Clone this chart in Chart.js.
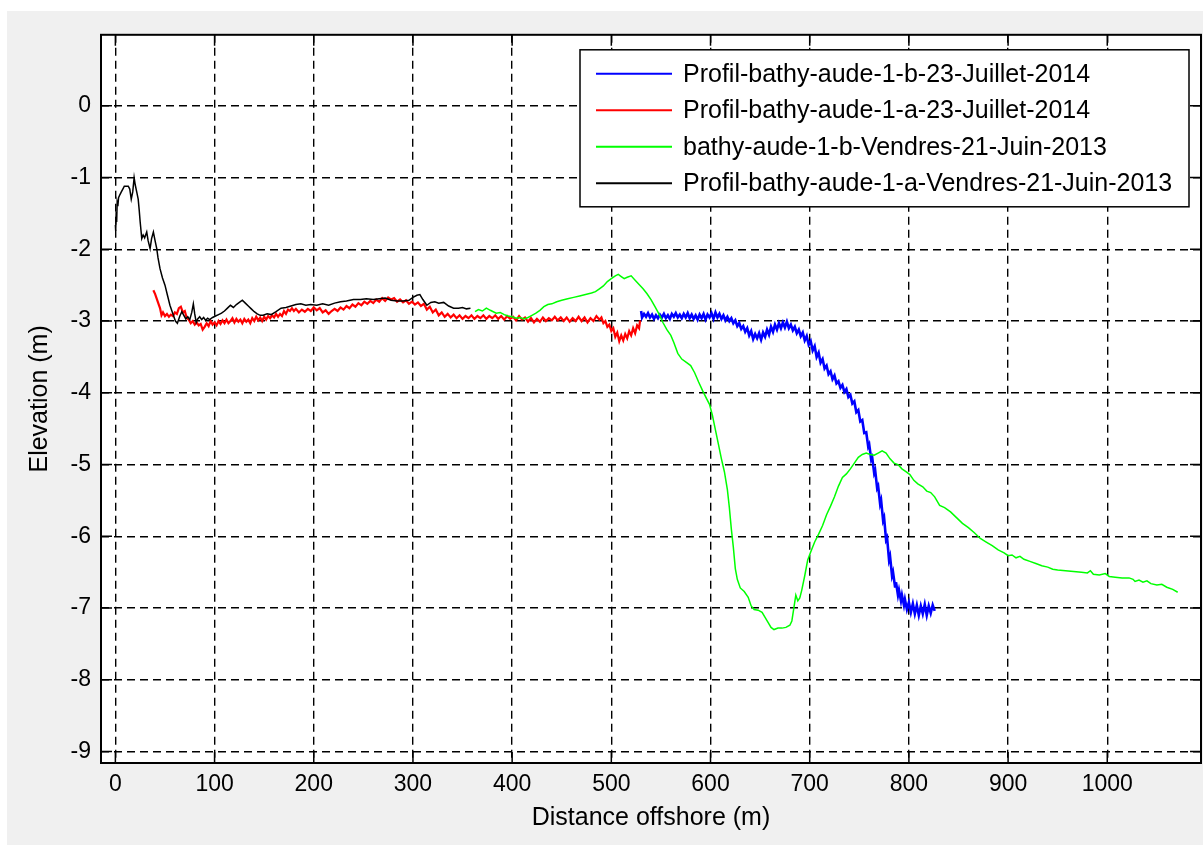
<!DOCTYPE html>
<html>
<head>
<meta charset="utf-8">
<title>Profils bathymetriques Aude</title>
<script src="https://cdn.jsdelivr.net/npm/chart.js@4.4.1/dist/chart.umd.min.js"></script>
<style>
  html, body { margin: 0; padding: 0; background: #fff; overflow: hidden; }
  #figure { position: absolute; left: 7px; top: 11px; width: 1196px; height: 834px; background: #f0f0f0; }
</style>
</head>
<body>
<div id="figure"><canvas id="profileChart"></canvas></div>
<script>
// legend labels, in the order of the legend
const seriesNames = [
  'Profil-bathy-aude-1-b-23-Juillet-2014',
  'Profil-bathy-aude-1-a-23-Juillet-2014',
  'bathy-aude-1-b-Vendres-21-Juin-2013',
  'Profil-bathy-aude-1-a-Vendres-21-Juin-2013'
];
const seriesColors = ['#0000ff', '#ff0000', '#00ff00', '#000000'];

const xTicks = [0, 100, 200, 300, 400, 500, 600, 700, 800, 900, 1000];
const yTicks = [-9, -8, -7, -6, -5, -4, -3, -2, -1, 0];
const xLimits = [-14.5, 1094.5];
const yLimits = [-9.16, 0.99];

// [distance offshore (m), elevation (m)]
const profile1b2014 = [
  [530,-2.86],[531,-2.95],[533,-2.90],[535,-2.94],[537,-2.89],[539,-2.95],[541,-2.91],[543,-2.97],[545,-2.92],[547,-2.96],
  [549,-2.91],[551,-2.95],[553,-2.90],[555,-2.96],[557,-2.92],[559,-2.97],[561,-2.90],[563,-2.94],[565,-2.89],[567,-2.95],
  [569,-2.91],[571,-2.96],[573,-2.90],[575,-2.95],[577,-2.89],[579,-2.96],[581,-2.91],[583,-2.97],[585,-2.92],[587,-2.98],
  [589,-2.91],[591,-2.96],[593,-2.90],[595,-2.98],[597,-2.91],[599,-2.95],[601,-2.89],[603,-2.97],[605,-2.88],[607,-2.95],
  [609,-2.90],[611,-2.97],[613,-2.92],[615,-2.99],[617,-2.94],[619,-3.00],[621,-2.96],[623,-3.03],[625,-2.99],[627,-3.07],
  [629,-3.03],[631,-3.11],[633,-3.07],[635,-3.15],[637,-3.10],[639,-3.20],[641,-3.14],[643,-3.25],[645,-3.18],[647,-3.24],
  [649,-3.17],[651,-3.26],[653,-3.16],[655,-3.22],[657,-3.12],[659,-3.19],[661,-3.08],[663,-3.15],[665,-3.05],[667,-3.12],
  [669,-3.03],[671,-3.10],[673,-3.02],[675,-3.09],[677,-3.01],[679,-3.10],[681,-3.05],[683,-3.13],[685,-3.08],[687,-3.17],
  [689,-3.12],[691,-3.21],[693,-3.16],[695,-3.27],[697,-3.21],[699,-3.33],[701,-3.28],[703,-3.41],[705,-3.35],[707,-3.50],
  [709,-3.44],[711,-3.58],[713,-3.53],[715,-3.66],[717,-3.62],[719,-3.74],[721,-3.70],[723,-3.81],[725,-3.76],[727,-3.87],
  [729,-3.84],[731,-3.93],[733,-3.89],[735,-3.99],[737,-3.95],[739,-4.06],[741,-4.03],[743,-4.15],[745,-4.12],[747,-4.27],
  [749,-4.24],[751,-4.40],[753,-4.38],[755,-4.56],[757,-4.55],[759,-4.75],[760,-4.72],[762,-4.93],[763,-4.90],[765,-5.12],
  [766,-5.08],[768,-5.33],[769,-5.30],[771,-5.55],[772,-5.50],[774,-5.78],[775,-5.74],[777,-6.05],[778,-6.02],[780,-6.33],
  [781,-6.28],[783,-6.55],[784,-6.50],[786,-6.70],[787,-6.64],[789,-6.82],[790,-6.75],[792,-6.90],[793,-6.82],[795,-6.96],
  [796,-6.88],[798,-7.02],[800,-6.92],[802,-7.06],[804,-6.94],[806,-7.08],[808,-6.96],[810,-7.10],[812,-6.97],[814,-7.08],
  [816,-6.95],[818,-7.10],[820,-6.97],[822,-7.07],[824,-6.96],[826,-7.04]
];

const profile1a2014 = [
  [38.3,-2.57],[40,-2.62],[42,-2.70],[44,-2.78],[45,-2.82],[46.5,-2.92],[48,-2.88],[50,-2.93],[52,-2.90],[54,-2.94],
  [56,-2.91],[58,-2.93],[60,-2.88],[62,-2.90],[64,-2.82],[66,-2.80],[68,-2.88],[70,-2.86],[72,-2.96],[74,-2.98],
  [76,-3.03],[78,-3.00],[80,-3.05],[82,-3.02],[84,-3.06],[86,-3.04],[88,-3.12],[90,-3.08],[92,-3.03],[94,-3.07],
  [96,-3.00],[98,-3.05],[100,-3.02],[102,-3.06],[104,-3.00],[106,-3.04],[108,-2.99],[110,-3.03],[112,-2.98],[114,-3.03],
  [116,-3.00],[118,-2.96],[120,-3.02],[122,-2.97],[124,-3.01],[126,-2.98],[128,-3.03],[130,-2.97],[132,-3.01],[134,-2.98],
  [136,-3.03],[138,-2.96],[140,-3.00],[142,-2.94],[144,-2.99],[146,-2.95],[148,-3.00],[150,-2.94],[152,-2.98],[154,-2.93],
  [156,-2.96],[158,-2.92],[160,-2.95],[162,-2.90],[164,-2.94],[166,-2.90],[168,-2.93],[170,-2.86],[172,-2.90],[174,-2.84],
  [176,-2.86],[178,-2.82],[180,-2.86],[182,-2.83],[185,-2.88],[188,-2.84],[191,-2.87],[194,-2.83],[197,-2.86],[200,-2.81],
  [203,-2.85],[206,-2.82],[209,-2.88],[212,-2.85],[215,-2.90],[218,-2.86],[221,-2.83],[224,-2.86],[227,-2.81],[230,-2.84],
  [233,-2.79],[236,-2.82],[239,-2.77],[242,-2.80],[245,-2.75],[248,-2.78],[251,-2.73],[254,-2.76],[257,-2.72],[260,-2.75],
  [263,-2.70],[266,-2.73],[269,-2.68],[272,-2.72],[275,-2.67],[278,-2.70],[281,-2.68],[284,-2.73],[287,-2.70],[290,-2.74],
  [293,-2.71],[296,-2.76],[299,-2.73],[302,-2.77],[305,-2.74],[308,-2.79],[311,-2.76],[314,-2.84],[317,-2.80],[320,-2.88],
  [323,-2.84],[326,-2.92],[329,-2.88],[332,-2.94],[335,-2.90],[338,-2.95],[341,-2.91],[344,-2.96],[347,-2.92],[350,-2.97],
  [353,-2.93],[356,-2.96],[359,-2.92],[362,-2.97],[365,-2.93],[368,-2.96],[371,-2.92],[374,-2.97],[377,-2.93],[380,-2.96],
  [383,-2.92],[386,-2.97],[389,-2.93],[392,-2.98],[395,-2.93],[398,-2.97],[401,-2.94],[404,-2.99],[407,-2.93],[410,-2.98],
  [413,-2.95],[416,-3.01],[419,-2.96],[422,-3.02],[425,-2.97],[428,-3.01],[431,-2.95],[434,-3.00],[437,-2.96],[440,-2.99],
  [443,-2.94],[446,-2.99],[449,-2.95],[452,-3.00],[455,-2.95],[458,-3.01],[461,-2.96],[464,-3.00],[467,-2.94],[470,-3.00],
  [473,-2.95],[476,-3.02],[479,-2.96],[482,-3.00],[485,-2.93],[488,-2.98],[490,-2.95],[492,-3.03],[494,-3.00],[496,-3.08],
  [498,-3.05],[500,-3.14],[502,-3.10],[504,-3.22],[506,-3.16],[508,-3.28],[510,-3.20],[512,-3.27],[514,-3.18],[516,-3.24],
  [518,-3.14],[520,-3.20],[522,-3.10],[524,-3.17],[526,-3.06],[528,-3.10],[529,-2.99]
];

const profile1bVendres2013 = [
  [362.6,-2.87],[366,-2.84],[370,-2.86],[374,-2.82],[378,-2.85],[381,-2.87],[384,-2.89],[388,-2.88],[392,-2.91],[396,-2.93],
  [400,-2.94],[404,-2.96],[408,-2.95],[412,-2.97],[416,-2.95],[420,-2.92],[424,-2.89],[428,-2.85],[432,-2.80],[436,-2.77],
  [440,-2.76],[445,-2.73],[450,-2.71],[456,-2.69],[462,-2.67],[468,-2.65],[474,-2.63],[480,-2.61],[484,-2.59],[488,-2.55],
  [492,-2.51],[496,-2.45],[500,-2.41],[504,-2.37],[507,-2.35],[510,-2.38],[513,-2.41],[516,-2.39],[520,-2.37],[524,-2.43],
  [528,-2.49],[532,-2.55],[536,-2.62],[540,-2.70],[544,-2.80],[548,-2.90],[552,-3.02],[556,-3.12],[560,-3.20],[563,-3.30],
  [567,-3.45],[571,-3.53],[576,-3.58],[580,-3.62],[584,-3.72],[588,-3.85],[592,-3.97],[596,-4.08],[599,-4.16],[602,-4.32],
  [605,-4.52],[608,-4.72],[611,-4.92],[614,-5.10],[617,-5.35],[619,-5.60],[621,-5.90],[623,-6.15],[625,-6.45],[627,-6.60],
  [630,-6.72],[634,-6.77],[638,-6.85],[641,-6.97],[644,-7.02],[648,-7.03],[652,-7.06],[655,-7.13],[658,-7.20],[661,-7.27],
  [664,-7.30],[668,-7.28],[672,-7.28],[676,-7.27],[680,-7.24],[682,-7.18],[684,-7.00],[686,-6.82],[688,-6.90],[690,-6.86],
  [692,-6.75],[695,-6.55],[698,-6.33],[701,-6.22],[705,-6.08],[709,-5.97],[713,-5.85],[717,-5.70],[721,-5.58],[725,-5.45],
  [729,-5.30],[733,-5.18],[737,-5.13],[741,-5.06],[745,-4.98],[749,-4.90],[753,-4.86],[757,-4.84],[761,-4.86],[765,-4.87],
  [769,-4.84],[773,-4.81],[777,-4.84],[781,-4.92],[785,-4.98],[789,-5.00],[793,-5.06],[797,-5.10],[801,-5.14],[805,-5.22],
  [809,-5.27],[814,-5.31],[818,-5.37],[822,-5.39],[826,-5.45],[831,-5.57],[836,-5.60],[842,-5.66],[848,-5.74],[854,-5.82],
  [860,-5.88],[866,-5.95],[872,-6.03],[878,-6.08],[884,-6.13],[890,-6.19],[896,-6.23],[900,-6.27],[904,-6.26],[908,-6.30],
  [912,-6.28],[916,-6.32],[922,-6.35],[928,-6.38],[934,-6.41],[940,-6.43],[945,-6.46],[950,-6.47],[958,-6.48],[966,-6.49],
  [974,-6.50],[980,-6.51],[983,-6.48],[986,-6.53],[992,-6.54],[998,-6.52],[1002,-6.56],[1008,-6.57],[1015,-6.58],[1022,-6.58],
  [1026,-6.60],[1028,-6.63],[1032,-6.61],[1036,-6.64],[1040,-6.62],[1044,-6.66],[1050,-6.68],[1055,-6.67],[1060,-6.71],[1066,-6.74],
  [1071,-6.78]
];

const profile1aVendres2013 = [
  [0,-1.66],[0.3,-1.74],[0.8,-1.48],[1.3,-1.62],[1.8,-1.35],[2.5,-1.40],[3.2,-1.28],[4.5,-1.24],[6,-1.20],[7.5,-1.16],
  [9,-1.12],[11,-1.12],[13,-1.12],[14.5,-1.16],[16,-1.30],[17.5,-1.20],[18.9,-1.00],[20,-1.10],[21.5,-1.20],[23,-1.30],
  [24,-1.45],[25,-1.62],[26.6,-1.85],[28,-1.80],[29.5,-1.84],[31.6,-1.76],[33,-1.88],[35,-1.99],[36.5,-1.85],[38.3,-1.76],
  [40,-1.88],[41.7,-1.99],[43,-2.12],[45,-2.27],[47.5,-2.40],[50,-2.50],[52.5,-2.64],[55,-2.78],[57,-2.86],[58.5,-2.92],
  [60.5,-3.00],[62.5,-3.03],[65,-2.93],[67,-2.87],[69,-2.92],[71,-2.97],[73,-2.94],[75,-2.98],[77,-2.88],[78.6,-2.76],
  [80,-2.90],[81.5,-3.02],[83,-2.97],[85,-2.94],[87,-2.98],[89,-2.95],[91,-2.99],[93,-2.96],[95,-2.98],[98,-2.95],
  [101,-2.93],[104,-2.91],[107,-2.89],[110,-2.86],[113,-2.82],[116,-2.78],[119,-2.81],[122,-2.77],[125,-2.74],[128,-2.71],
  [131,-2.75],[134,-2.79],[137,-2.83],[140,-2.87],[143,-2.90],[146,-2.92],[149,-2.92],[153,-2.90],[157,-2.91],[162,-2.87],
  [167,-2.82],[172,-2.81],[177,-2.79],[182,-2.77],[187,-2.76],[192,-2.78],[197,-2.77],[203,-2.78],[209,-2.76],[215,-2.78],
  [221,-2.75],[227,-2.73],[233,-2.72],[240,-2.70],[247,-2.70],[253,-2.69],[260,-2.70],[266,-2.69],[272,-2.68],[278,-2.71],
  [284,-2.72],[290,-2.72],[296,-2.71],[300,-2.67],[304,-2.64],[307,-2.63],[310,-2.70],[314,-2.78],[318,-2.74],[322,-2.73],
  [326,-2.75],[331,-2.74],[336,-2.79],[341,-2.82],[346,-2.82],[350,-2.81],[354,-2.83],[358,-2.82]
];

const seriesData = [profile1b2014, profile1a2014, profile1bVendres2013, profile1aVendres2013];
const seriesWidths = [2.6, 2.2, 1.5, 1.5];

const FONT = '"Liberation Sans", Arial, sans-serif';

// white plotting area on the grey figure
const plotBackground = {
  id: 'plotBackground',
  beforeDraw(chart) {
    const { ctx, chartArea: a } = chart;
    ctx.save();
    ctx.fillStyle = '#ffffff';
    ctx.fillRect(a.left, a.top, a.width, a.height);
    ctx.restore();
  }
};

// matlab style box with inward ticks on every side
const axesBox = {
  id: 'axesBox',
  afterDatasetsDraw(chart) {
    const { ctx, chartArea: a, scales } = chart;
    const tickLen = 11;
    ctx.save();
    ctx.strokeStyle = '#000';
    ctx.lineWidth = 1.5;
    ctx.beginPath();
    xTicks.forEach(v => {
      const px = scales.x.getPixelForValue(v);
      ctx.moveTo(px, a.bottom); ctx.lineTo(px, a.bottom - tickLen);
      ctx.moveTo(px, a.top); ctx.lineTo(px, a.top + tickLen);
    });
    yTicks.forEach(v => {
      const py = scales.y.getPixelForValue(v);
      ctx.moveTo(a.left, py); ctx.lineTo(a.left + tickLen, py);
      ctx.moveTo(a.right, py); ctx.lineTo(a.right - tickLen, py);
    });
    ctx.stroke();
    ctx.lineWidth = 2;
    ctx.strokeRect(a.left, a.top, a.width, a.height);
    ctx.restore();
  }
};

// boxed legend in the top right corner of the axes
const legendBox = {
  id: 'legendBox',
  afterDraw(chart) {
    const { ctx, chartArea: a } = chart;
    const w = 609, h = 157;
    const left = a.right - 12 - w, top = a.top + 15;
    ctx.save();
    ctx.fillStyle = '#fff';
    ctx.fillRect(left, top, w, h);
    ctx.strokeStyle = '#000';
    ctx.lineWidth = 1.5;
    ctx.strokeRect(left, top, w, h);
    ctx.font = '25px ' + FONT;
    ctx.textBaseline = 'middle';
    ctx.fillStyle = '#000';
    seriesNames.forEach((name, i) => {
      const y = top + 24 + i * 36.5;
      ctx.strokeStyle = seriesColors[i];
      ctx.lineWidth = 2;
      ctx.beginPath();
      ctx.moveTo(left + 16, y);
      ctx.lineTo(left + 92, y);
      ctx.stroke();
      ctx.fillText(name, left + 103, y + 1);
    });
    ctx.restore();
  }
};

const datasets = seriesData.map((rows, i) => ({
  label: seriesNames[i],
  data: rows.map(([x, y]) => ({ x, y })),
  borderColor: seriesColors[i],
  borderWidth: seriesWidths[i],
  pointRadius: 0,
  tension: 0,
  fill: false,
  order: 4 - i
}));

new Chart(document.getElementById('profileChart'), {
  type: 'line',
  data: { datasets },
  options: {
    responsive: true,
    maintainAspectRatio: false,
    animation: false,
    layout: { padding: { top: 21, right: 2, left: 0, bottom: 0 } },
    plugins: {
      legend: { display: false },
      tooltip: { enabled: false }
    },
    scales: {
      x: {
        type: 'linear',
        min: xLimits[0],
        max: xLimits[1],
        afterBuildTicks: scale => { scale.ticks = xTicks.map(value => ({ value })); },
        afterFit: scale => { scale.height = 82; },
        grid: { color: '#000', lineWidth: 1.4, drawTicks: false },
        border: { display: false, dash: [8, 5] },
        ticks: {
          color: '#000', padding: 8, maxRotation: 0,
          font: { family: FONT, size: 23 },
          callback: value => String(value)
        },
        title: {
          display: true,
          text: 'Distance offshore (m)',
          color: '#000',
          font: { family: FONT, size: 25 },
          padding: { top: 0, bottom: 12 }
        }
      },
      y: {
        type: 'linear',
        min: yLimits[0],
        max: yLimits[1],
        afterBuildTicks: scale => { scale.ticks = yTicks.map(value => ({ value })); },
        afterFit: scale => { scale.width = 94; },
        grid: { color: '#000', lineWidth: 1.4, drawTicks: false },
        border: { display: false, dash: [8, 5] },
        ticks: {
          color: '#000', padding: 10,
          font: { family: FONT, size: 23 },
          callback: value => String(value)
        },
        title: {
          display: true,
          text: 'Elevation (m)',
          color: '#000',
          font: { family: FONT, size: 25 },
          padding: { top: 18, bottom: 0 }
        }
      }
    }
  },
  plugins: [plotBackground, axesBox, legendBox]
});
</script>
</body>
</html>
